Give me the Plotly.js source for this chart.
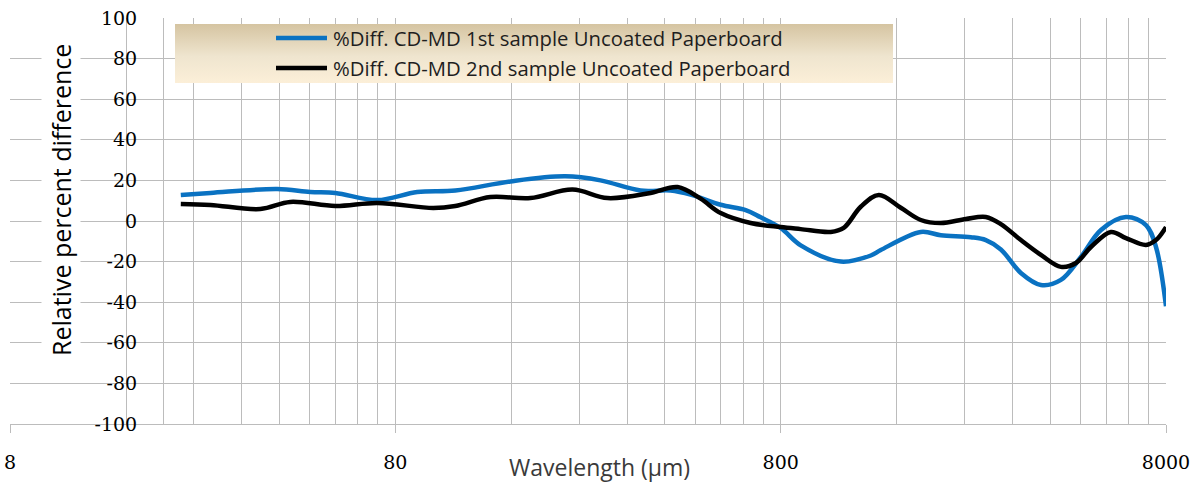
<!DOCTYPE html>
<html>
<head>
<meta charset="utf-8">
<script src="https://cdn.plot.ly/plotly-3.0.1.min.js"></script>
<style>html,body{margin:0;padding:0;background:#fff;}#chart{width:1200px;height:484px;}</style>
</head>
<body>
<div id="chart"></div>
<script>
// ---- data ----
const seriesNames = [
  "%Diff. CD-MD 1st sample Uncoated Paperboard",
  "%Diff. CD-MD 2nd sample Uncoated Paperboard"
];
const wavelength1 = [22.2, 26.5, 39.5, 48.1, 55.9, 71.8, 91.2, 114.5, 159.1, 221, 272.6, 346.3, 414.5, 467.1, 559, 649, 710, 800, 902, 1146, 1371, 1455, 1848, 2083, 2492, 2726, 2982, 3361, 3788, 4269, 4812, 5424, 6298, 7099, 7535, 8000];
const diff1 = [12.8, 13.8, 15.8, 14.3, 13.8, 10.3, 14.3, 15, 19.5, 22, 20, 15, 15, 13, 8, 5.4, 1.8, -3.4, -12, -20, -17, -14.3, -5.4, -7, -8, -9.4, -14, -25.6, -31.5, -29, -17.7, -4.4, 2, -2, -12.8, -42];
const wavelength2 = [22.2, 26.5, 35.7, 42.7, 55.9, 71.8, 100.4, 114.5, 141.2, 179.4, 230.6, 284.3, 367.6, 432.2, 495.9, 559, 668.6, 800, 902, 1079, 1166, 1291, 1438, 1640, 1848, 2083, 2419, 2726, 2982, 3361, 3788, 4269, 4670, 5109, 5758, 6298, 7099, 7535, 8000];
const diff2 = [8.4, 7.9, 5.9, 9.4, 7.4, 8.9, 6.4, 7.4, 11.8, 11.3, 15.5, 11.3, 13.8, 16.7, 11, 3.9, -1, -3, -4, -5.4, -3.4, 7, 12.8, 6.5, 0.5, -1, 1, 2, -1.5, -9.4, -16.7, -22.6, -20.7, -12.8, -5.4, -8.4, -11.8, -9.4, -3];
const xTickVals = [8, 80, 800, 8000];
const xTickText = ["8", "80", "800", "8000"];
const xMinorVals = [16,24,32,40,48,56,64,72,160,240,320,400,480,560,640,720,1600,2400,3200,4000,4800,5600,6400,7200];
const yTickVals = [-100,-80,-60,-40,-20,0,20,40,60,80,100];
const yTickText = ["-100","-80","-60","-40","-20","0","20","40","60","80","100"];
const xTitle = "Wavelength (µm)";
const yTitle = "Relative percent difference";
const colors = ["#0A72C2", "#000000"];

// ---- layout helpers ----
const W = 1200, H = 484;
const L = 10, R = 1166, T = 18, B = 424;
const px = x => (x - L) / (R - L);
const py = y => (B - y) / (B - T);
const grid = "#bcbcbc";
const tickFont = {family: "DejaVu Serif, serif", size: 19, color: "#000"};

const traces = [
  {x: wavelength1, y: diff1, name: seriesNames[0], type: "scatter", mode: "lines",
   line: {color: colors[0], width: 4.5, shape: "spline", smoothing: 1}, showlegend: false},
  {x: wavelength2, y: diff2, name: seriesNames[1], type: "scatter", mode: "lines",
   line: {color: colors[1], width: 4.5, shape: "spline", smoothing: 1}, showlegend: false}
];

const gradSvg = '<svg xmlns="http://www.w3.org/2000/svg" width="100" height="100" preserveAspectRatio="none">' +
  '<defs><linearGradient id="g" x1="0" y1="0" x2="0" y2="1">' +
  '<stop offset="0" stop-color="#d5c4a1"/><stop offset="0.55" stop-color="#efe5cf"/><stop offset="1" stop-color="#fcefd8"/>' +
  '</linearGradient></defs><rect width="100" height="100" fill="url(#g)"/></svg>';
const gradUri = "data:image/svg+xml;base64," + btoa(gradSvg);

const legendY = [38, 68];
const shapes = [];
const annotations = [];
seriesNames.forEach((n, i) => {
  shapes.push({type: "line", xref: "paper", yref: "paper", x0: px(276), x1: px(327),
    y0: py(legendY[i]), y1: py(legendY[i]), line: {color: colors[i], width: 4.5}, layer: "above"});
  annotations.push({text: n, xref: "paper", yref: "paper", x: px(331), y: py(legendY[i]),
    xanchor: "left", yanchor: "middle", showarrow: false,
    font: {family: "Open Sans, sans-serif", size: 20.3, color: "#1e1e1e"}});
});
annotations.push({text: yTitle, textangle: -90, xref: "paper", yref: "paper",
  x: px(61), y: py(200), xanchor: "center", yanchor: "middle", showarrow: false,
  bgcolor: "#ffffff", borderpad: 2,
  font: {family: "Open Sans, sans-serif", size: 25, color: "#000"}});
annotations.push({text: xTitle, xref: "paper", yref: "paper",
  x: px(599), y: py(467), xanchor: "center", yanchor: "middle", showarrow: false,
  font: {family: "Open Sans, sans-serif", size: 23, color: "#3a3a3a"}});

const layout = {
  width: W, height: H,
  margin: {l: L, r: W - R, t: T, b: H - B, pad: 0},
  paper_bgcolor: "#fff", plot_bgcolor: "#fff",
  showlegend: false,
  xaxis: {
    type: "log", range: [Math.log10(8), Math.log10(8000)],
    tickmode: "array", tickvals: xTickVals, ticktext: xTickText,
    ticks: "outside", ticklen: 8, tickcolor: grid, tickwidth: 1,
    ticklabelstandoff: 13,
    tickfont: tickFont,
    showgrid: true, gridcolor: grid, gridwidth: 1,
    minor: {tickmode: "array", tickvals: xMinorVals, showgrid: true, gridcolor: grid, gridwidth: 1, ticks: ""},
    showline: true, linecolor: grid, linewidth: 1, mirror: false,
    zeroline: false, fixedrange: true
  },
  yaxis: {
    range: [-100, 100], tickmode: "array", tickvals: yTickVals, ticktext: yTickText,
    anchor: "free", position: px(163),
    ticks: "", ticklabelstandoff: 22,
    tickfont: tickFont,
    showgrid: true, gridcolor: grid, gridwidth: 1,
    showline: true, linecolor: grid, linewidth: 1,
    zeroline: false, fixedrange: true
  },
  images: [{source: gradUri, xref: "paper", yref: "paper", x: px(175), y: py(24),
    sizex: px(893) - px(175), sizey: py(24) - py(83), xanchor: "left", yanchor: "top",
    sizing: "stretch", layer: "above"}],
  shapes: shapes,
  annotations: annotations
};

Plotly.newPlot("chart", traces, layout, {displayModeBar: false, staticPlot: true});
</script>
</body>
</html>
